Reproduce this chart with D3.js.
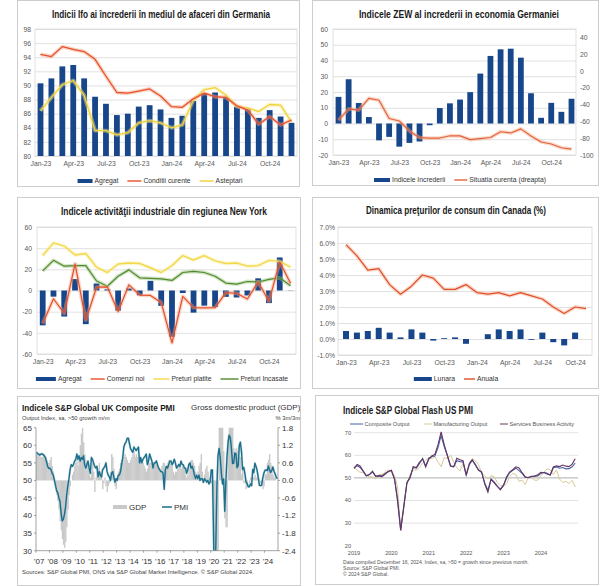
<!DOCTYPE html>
<html><head><meta charset="utf-8">
<script src="https://cdn.jsdelivr.net/npm/d3@7"></script>
<style>body{margin:0;background:#fff}svg{display:block}text{font-family:Arial,"Liberation Sans",sans-serif}</style>
</head><body><svg id="c" width="600" height="586"></svg>
<script>
// ---------- DATA ----------
const months = ["Jan-23","Feb-23","Mar-23","Apr-23","May-23","Jun-23","Jul-23","Aug-23","Sep-23","Oct-23","Nov-23","Dec-23",
                "Jan-24","Feb-24","Mar-24","Apr-24","May-24","Jun-24","Jul-24","Aug-24","Sep-24","Oct-24","Nov-24","Dec-24"];
const monthsCA = months.slice(0, 23);
const xTicks = ["Jan-23","Apr-23","Jul-23","Oct-23","Jan-24","Apr-24","Jul-24","Oct-24"];

const ifoAgregat   = [90.3,91.0,92.7,92.9,91.0,88.4,87.4,85.8,86.0,87.0,87.2,86.6,85.4,85.7,87.8,88.9,89.0,88.3,87.0,86.6,85.4,86.5,85.6,84.7];
const ifoConditii  = [94.4,94.1,95.5,95.1,94.8,93.7,91.3,89.0,88.9,89.2,89.5,88.5,87.0,86.9,88.1,88.9,88.4,88.3,87.1,86.5,84.5,85.6,84.4,85.1];
const ifoAsteptari = [86.4,88.3,90.1,90.7,88.6,83.6,83.6,83.0,83.3,84.7,85.0,84.7,84.0,84.4,87.9,89.4,89.7,88.6,87.0,86.8,86.3,87.3,87.2,84.8];
const ifoTicks = [80,82,84,86,88,90,92,94,96,98];

const zewIncredere = [16.9,28.1,13.0,4.1,-10.7,-8.5,-14.7,-12.3,-11.4,-1.1,9.8,12.8,15.2,19.9,31.7,42.9,47.1,47.5,41.8,19.2,3.6,13.1,7.4,15.7];
const zewSituatia  = [-58.6,-45.1,-46.5,-32.5,-34.8,-56.5,-59.5,-71.3,-79.4,-79.9,-79.8,-77.1,-77.3,-81.7,-80.5,-79.2,-72.3,-73.8,-68.9,-77.3,-84.5,-86.9,-91.4,-93.1];
const zewTicksL = [-20,-10,0,10,20,30,40,50,60];
const zewTicksR = [-100,-80,-60,-40,-20,0,20,40];

const nyAgregat  = [-32.9,-5.8,-24.6,10.8,-31.8,6.6,1.1,-19.0,1.9,-4.6,9.1,-14.5,-43.7,-2.4,-20.9,-14.3,-15.6,-6.0,-6.6,-4.7,11.5,-11.9,31.2,0.2];
const nyComenzi  = [-31.2,-7.8,-21.7,25.1,-28.0,3.1,3.5,-19.9,5.3,-4.3,-4.7,-11.3,-49.4,-5.6,-16.2,-16.5,-16.2,-2.0,-2.6,-8.0,8.0,-10.2,27.0,6.8];
const nyPlatite  = [33.0,45.0,42.0,33.5,35.0,22.0,17.0,25.0,26.0,25.5,21.5,17.0,23.5,33.0,28.8,33.0,28.0,25.5,26.0,23.0,23.5,28.5,27.5,22.0];
const nyIncasate = [18.5,28.5,23.0,23.5,23.5,9.0,4.0,13.5,19.5,12.0,11.5,11.0,9.5,17.0,18.0,17.0,13.5,7.0,6.0,8.5,8.0,10.5,12.0,4.5];
const nyTicks = [-60,-40,-20,0,20,40,60];

const caLunara = [0.5,0.4,0.5,0.7,0.4,0.1,0.6,0.4,-0.1,0.05,0.1,-0.3,0.0,0.3,0.6,0.5,0.6,-0.05,0.4,-0.2,-0.4,0.4,0.0];
const caAnuala = [5.9,5.2,4.3,4.4,3.4,2.8,3.3,4.0,3.8,3.1,3.1,3.4,2.9,2.8,2.9,2.7,2.9,2.7,2.5,2.0,1.6,2.0,1.9];
const caTicks = [-1,0,1,2,3,4,5,6,7];

const ukYears = ["'07","'08","'09","'10","'11","'12","'13","'14","'15","'16","'17","'18","'19","'20","'21","'22","'23","'24"];
const ukPMI = [
 58.0,57.6,57.5,57.2,57.5,57.6,57.3,57.0,56.5,55.3,53.9,53.4,
 53.5,53.0,52.0,51.5,50.0,48.5,47.0,46.5,45.0,44.0,40.5,38.5,
 39.0,40.5,42.5,46.0,48.5,50.5,53.0,54.5,54.0,54.5,55.5,56.0,
 57.5,56.0,57.0,55.5,56.5,56.0,57.0,54.5,53.5,54.5,55.5,53.5,
 52.0,56.5,56.0,55.0,54.0,53.5,54.0,51.0,52.5,51.5,51.0,53.0,
 53.5,54.0,55.0,52.5,51.5,51.0,50.0,52.0,52.5,51.0,49.5,50.5,
 50.0,51.5,51.5,52.5,54.5,56.5,59.5,60.5,61.0,62.0,62.0,60.5,
 59.0,58.5,58.0,59.5,59.0,58.5,59.0,59.5,55.0,56.5,55.0,56.0,
 56.5,57.0,57.5,54.5,55.5,57.5,56.5,55.5,53.5,55.0,55.0,55.5,
 54.5,53.5,53.0,52.5,52.5,52.0,47.5,53.0,54.0,53.5,54.5,55.5,
 55.5,54.5,55.0,56.0,55.0,53.5,54.0,54.5,54.0,55.5,54.5,54.5,
 53.5,53.5,52.0,53.0,54.5,55.0,53.5,54.0,53.0,51.5,50.5,51.5,
 50.5,51.5,50.0,50.5,50.5,49.5,50.5,50.0,49.5,50.0,49.0,49.5,
 53.0,53.0,36.0,13.8,30.0,47.7,57.0,59.1,56.5,52.1,49.0,50.4,
 41.2,49.6,56.4,60.7,62.9,62.2,59.2,54.8,54.9,57.8,57.6,53.6,
 54.2,59.9,60.9,58.2,53.1,53.7,52.1,49.6,49.1,48.2,48.2,49.0,
 48.5,53.1,52.2,54.9,54.0,52.8,50.8,48.6,48.5,48.7,50.7,52.1,
 52.9,53.0,52.8,54.1,53.0,52.3,52.8,53.8,52.6,51.8,50.9,50.5];
const ukGDP = [
 0.9,0.9,0.9,0.9,0.8,0.8,0.9,0.9,0.8,0.7,0.6,0.6,
 0.7,0.8,0.5,0.3,0.1,-0.2,-0.5,-0.7,-1.0,-1.4,-1.7,-2.0,
 -2.2,-2.3,-2.1,-1.6,-1.0,-0.5,-0.2,0.0,0.2,0.3,0.5,0.6,
 0.7,0.5,0.7,1.2,1.6,1.9,1.3,0.9,0.7,0.6,0.4,0.2,
 0.1,0.3,0.6,0.3,-0.4,0.1,0.3,0.4,0.6,0.3,0.2,-0.3,
 -0.1,0.1,-0.2,-0.4,-0.2,-0.1,0.3,0.9,0.8,0.4,-0.2,-0.3,
 0.1,0.3,0.4,0.6,0.7,0.6,0.8,0.9,0.8,0.7,0.6,0.6,
 0.7,0.8,0.9,1.0,0.8,0.9,0.8,0.7,0.6,0.7,0.7,0.6,
 0.5,0.4,0.3,0.4,0.6,0.6,0.6,0.5,0.4,0.5,0.6,0.7,
 0.5,0.4,0.4,0.4,0.5,0.6,0.6,0.5,0.5,0.6,0.7,0.7,
 0.7,0.5,0.3,0.2,0.3,0.3,0.4,0.5,0.5,0.4,0.5,0.5,
 0.4,0.2,0.1,0.2,0.4,0.6,0.7,0.7,0.6,0.5,0.3,0.2,
 0.3,0.5,0.6,0.9,0.3,-0.1,0.2,0.4,0.5,0.3,0.1,0.0,
 -0.1,-0.1,-2.1,-10.4,-19.1,-20.4,-7.6,8.2,15.5,10.5,4.1,1.0,
 -1.3,-1.6,-1.6,1.5,4.8,4.8,3.6,2.9,1.1,0.9,1.1,1.0,
 1.1,0.8,0.8,0.2,0.4,-0.1,0.0,-0.3,-0.2,0.0,-0.1,0.1,
 0.1,0.1,0.1,0.2,0.1,0.1,0.1,0.0,-0.1,-0.2,-0.3,-0.2,
 0.2,0.2,0.6,0.7,0.9,0.6,0.5,0.2,0.1,0.1];
const ukTicksL = [30,35,40,45,50,55,60,65];
const ukTicksR = [-2.4,-1.8,-1.2,-0.6,0.0,0.6,1.2,1.8];

const usYears = ["2019","2020","2021","2022","2023","2024"];
const usComposite = [
 54.4,55.5,54.6,53.0,50.9,51.5,52.6,50.7,51.0,50.9,52.0,52.7,
 53.3,49.6,40.9,27.0,37.0,47.9,50.3,54.6,54.3,56.3,58.6,55.3,
 58.7,59.5,59.7,63.5,68.7,63.7,59.9,55.4,55.0,57.6,57.2,57.0,
 51.1,55.9,57.7,56.0,53.6,52.3,47.7,44.6,49.5,48.2,46.4,45.0,
 46.8,50.1,52.3,53.4,54.3,53.2,52.0,50.2,50.2,50.7,50.7,50.9,
 52.0,52.5,52.1,51.3,54.5,54.8,54.3,54.6,54.0,54.1,54.9,56.6];
const usManufacturing = [
 54.5,53.5,52.5,52.5,51.0,50.5,50.5,49.5,51.5,51.5,52.5,53.5,
 53.0,51.0,46.0,27.5,36.0,47.5,51.5,53.5,53.5,54.5,56.5,58.0,
 59.0,58.5,59.5,57.0,55.0,59.0,58.5,60.0,57.0,54.5,53.0,56.5,
 52.0,56.0,58.5,57.5,56.0,52.0,51.0,49.5,51.0,50.5,48.0,46.5,
 46.5,47.5,50.5,52.0,51.5,48.5,49.0,47.0,50.5,50.0,49.0,49.0,
 51.0,52.5,54.0,53.5,51.5,53.5,49.5,48.0,48.5,47.5,49.0,46.0];
const usServices = [
 54.2,56.0,55.3,53.0,50.9,51.5,53.0,50.7,50.9,50.6,51.6,52.8,
 53.4,49.4,39.8,26.7,37.5,47.9,50.0,55.0,54.6,56.9,58.4,54.8,
 58.3,59.8,60.4,64.7,70.4,64.6,59.9,55.1,54.9,58.7,58.0,57.6,
 51.2,56.5,58.0,55.6,53.4,52.7,47.3,43.7,49.3,47.8,46.2,44.7,
 46.8,50.6,52.6,53.6,54.9,54.4,52.3,50.5,50.1,50.6,50.8,51.4,
 52.5,52.3,51.7,51.3,54.8,55.3,55.0,55.7,55.2,55.0,56.1,58.5];
const usTicks = [20,30,40,50,60,70];

// ---------- DRAWING ----------
const svg = d3.select("#c");
const AX = "#595959", GRID = "#d9d9d9", BLUE = "#17468a";
const FS = 6.8;

function panel(x, y, w, h) {
  svg.append("rect").attr("x", x + 0.5).attr("y", y + 0.5).attr("width", w).attr("height", h)
    .attr("fill", "#fff").attr("stroke", "#cdcdcd");
}
function title(txt, x, y, len, fs, anchor, fit) {
  const t = svg.append("text").attr("x", x).attr("y", y).attr("text-anchor", anchor || "middle")
    .attr("font-family", "'Liberation Sans Narrow','DejaVu Sans Condensed',sans-serif")
    .attr("font-weight", "bold").attr("font-size", fs)
    .attr("fill", "#1a1a1a").text(txt);
  if (fit) {
    const nat = t.node().getComputedTextLength();
    t.attr("font-size", (fs * len / nat).toFixed(2));
  } else {
    t.attr("textLength", len).attr("lengthAdjust", "spacingAndGlyphs");
  }
}
function leftAxis(y, x0, x1, ticks, fmt, pad) {
  const g = svg.append("g").attr("transform", `translate(${x0},0)`)
    .call(d3.axisLeft(y).tickValues(ticks).tickSize(-(x1 - x0)).tickPadding(pad).tickFormat(fmt));
  g.select(".domain").remove();
  g.selectAll("line").attr("stroke", GRID).attr("stroke-width", 0.8);
  g.selectAll("text").attr("fill", AX).attr("font-size", FS).attr("font-family", "Arial,'Liberation Sans',sans-serif");
  return g;
}
function bottomAxis(x, yPos, ticks) {
  const g = svg.append("g").attr("transform", `translate(0,${yPos})`)
    .call(d3.axisBottom(x).tickValues(ticks).tickSize(0).tickPadding(5));
  g.select(".domain").remove();
  g.selectAll("text").attr("fill", AX).attr("font-size", FS).attr("font-family", "Arial,'Liberation Sans',sans-serif");
}
function frame(x0, x1, y0, y1) {
  svg.append("rect").attr("x", x0).attr("y", y0).attr("width", x1 - x0).attr("height", y1 - y0)
    .attr("fill", "none").attr("stroke", GRID).attr("stroke-width", 0.8);
}
function bars(x, y, cats, vals, base, w, color) {
  svg.append("g").selectAll("rect").data(vals).join("rect")
    .attr("x", (d, i) => x(cats[i]) - w / 2)
    .attr("y", d => Math.min(y(d), y(base)))
    .attr("width", w)
    .attr("height", d => Math.abs(y(d) - y(base)))
    .attr("fill", color);
}
function series(x, y, cats, vals, color, width, halo) {
  const line = d3.line().x((d, i) => x(cats[i])).y(d => y(d));
  if (halo) svg.append("path").attr("d", line(vals)).attr("fill", "none").attr("stroke", halo)
    .attr("stroke-width", width + 2.6).attr("stroke-opacity", 0.45).attr("stroke-linejoin", "round");
  svg.append("path").attr("d", line(vals)).attr("fill", "none").attr("stroke", color)
    .attr("stroke-width", width).attr("stroke-linejoin", "round");
}
function legend(items, cx, cy, fs, color) {
  const g = svg.append("g");
  let x = 0;
  items.forEach((it, k) => {
    if (it.type === "bar") g.append("rect").attr("x", x).attr("y", cy - 2).attr("width", it.w).attr("height", 4).attr("fill", it.color);
    else g.append("line").attr("x1", x).attr("x2", x + it.w).attr("y1", cy).attr("y2", cy)
      .attr("stroke", it.color).attr("stroke-width", it.sw || 1.4);
    x += it.w + 2;
    const t = g.append("text").attr("x", x).attr("y", cy).attr("dy", "0.35em").attr("font-size", fs)
      .attr("fill", color).text(it.label);
    x += t.node().getComputedTextLength() + (k < items.length - 1 ? 9 : 0);
  });
  g.attr("transform", `translate(${cx - x / 2},0)`);
}
const numFmt = d => String(d);

// ===== Panel 1: Ifo =====
panel(17, 0, 282, 186);
title("Indicii Ifo ai încrederii în mediul de afaceri din Germania", 161, 18, 218, 10);
{
  const x = d3.scalePoint().domain(months).range([40.5, 291.5]);
  const y = d3.scaleLinear().domain([80, 98]).range([156, 29]);
  leftAxis(y, 35, 297, ifoTicks, numFmt, 4);
  frame(35, 297, 29, 156);
  bars(x, y, months, ifoAgregat, 80, 5.8, BLUE);
  series(x, y, months, ifoAsteptari, "#f0d23c", 1.3, "#f8e88a");
  series(x, y, months, ifoConditii, "#e8502a", 1.3, "#f4a080");
  bottomAxis(x, 156, xTicks);
  legend([{type:"bar", w:15, color:BLUE, label:"Agregat"},
          {type:"line", w:14, color:"#e8502a", label:"Conditii curente"},
          {type:"line", w:14, color:"#f0d23c", label:"Asteptari"}], 160, 181, FS, "#333");
}

// ===== Panel 2: ZEW =====
panel(312, 0, 286, 185);
title("Indicele ZEW al increderii in economia Germaniei", 459, 18, 200, 10);
{
  const x = d3.scalePoint().domain(months).range([338.5, 571.5]);
  const yL = d3.scaleLinear().domain([-20, 60]).range([155, 29]);
  const yR = d3.scaleLinear().domain([-100, 50]).range([155, 29]);
  leftAxis(yL, 333, 576, zewTicksL, numFmt, 5);
  frame(333, 576, 29, 155);
  const gr = svg.append("g").attr("transform", "translate(576,0)")
    .call(d3.axisRight(yR).tickValues(zewTicksR).tickSize(0).tickPadding(4).tickFormat(numFmt));
  gr.select(".domain").remove();
  gr.selectAll("text").attr("fill", AX).attr("font-size", FS);
  bars(x, yL, months, zewIncredere, 0, 5.8, BLUE);
  series(x, yR, months, zewSituatia, "#e3623a", 1.2, "#f3a98a");
  bottomAxis(x, 155, xTicks);
  legend([{type:"bar", w:16, color:BLUE, label:"Indicele Increderii"},
          {type:"line", w:13, color:"#e3623a", label:"Situatia curenta (dreapta)"}], 460, 180, FS, "#333");
}

// ===== Panel 3: New York =====
panel(17, 197, 283, 191);
title("Indicele activităţii industriale din regiunea New York", 164, 215, 206, 10);
{
  const x = d3.scalePoint().domain(months).range([42.7, 290.5]);
  const y = d3.scaleLinear().domain([-60, 60]).range([354, 227]);
  leftAxis(y, 37, 296, nyTicks, numFmt, 5);
  frame(37, 296, 227, 354);
  bars(x, y, months, nyAgregat, 0, 5.8, BLUE);
  series(x, y, months, nyPlatite, "#f3d84a", 1.4, "#f9eea0");
  series(x, y, months, nyIncasate, "#4f8a2b", 1.2, "#9cc47f");
  series(x, y, months, nyComenzi, "#e2502a", 1.2, "#f3a080");
  bottomAxis(x, 354, xTicks);
  legend([{type:"bar", w:20, color:BLUE, label:"Agregat"},
          {type:"line", w:14, color:"#e2502a", label:"Comenzi noi"},
          {type:"line", w:16, color:"#f3d84a", label:"Preturi platite"},
          {type:"line", w:18, color:"#4f8a2b", label:"Preturi Incasate"}], 162, 379, FS, "#333");
}

// ===== Panel 4: Canada CPI =====
panel(312, 197, 286, 191);
title("Dinamica preţurilor de consum din Canada (%)", 456, 214, 180, 10);
{
  const x = d3.scalePoint().domain(monthsCA).range([346, 586]);
  const y = d3.scaleLinear().domain([-1, 7]).range([355, 227]);
  leftAxis(y, 338, 592, caTicks, d => d.toFixed(1) + "%", 3);
  frame(338, 592, 227, 355);
  bars(x, y, monthsCA, caLunara, 0, 6, BLUE);
  series(x, y, monthsCA, caAnuala, "#e0502a", 1.2, "#f4a88a");
  bottomAxis(x, 355, xTicks);
  legend([{type:"bar", w:18, color:BLUE, label:"Lunara"},
          {type:"line", w:11, color:"#e0502a", label:"Anuala"}], 456, 379, FS, "#333");
}

// ===== Panel 5: UK Composite PMI =====
panel(17, 396, 283, 189);
{
  const clipP = svg.append("clipPath").attr("id", "p5clip");
  clipP.append("rect").attr("x", 17).attr("y", 396).attr("width", 283).attr("height", 190);
  const gP = svg.append("g").attr("clip-path", "url(#p5clip)");
  const X0 = 36, X1 = 278, Y0 = 427.7, Y1 = 550.7;
  const tx = d3.scaleTime().domain([new Date(2007, 0, 1), new Date(2025, 0, 1)]).range([X0, X1]);
  const yL = d3.scaleLinear().domain([30, 65]).range([Y1, Y0]);
  const yR = d3.scaleLinear().domain([-2.4, 1.8]).range([Y1, Y0]);
  const clip = svg.append("clipPath").attr("id", "ukclip");
  clip.append("rect").attr("x", X0).attr("y", Y0).attr("width", X1 - X0).attr("height", Y1 - Y0);
  const g = svg.append("g").attr("clip-path", "url(#ukclip)");
  g.selectAll("rect").data(ukGDP).join("rect")
    .attr("x", (d, i) => tx(new Date(2007, i, 1)))
    .attr("width", (d, i) => tx(new Date(2007, i + 1, 1)) - tx(new Date(2007, i, 1)) + 0.25)
    .attr("y", d => Math.min(yR(d), yR(0)))
    .attr("height", d => Math.abs(yR(d) - yR(0)))
    .attr("fill", "#c9c9c9");
  const line = d3.line().x((d, i) => tx(new Date(2007, i, 15))).y(d => yL(d));
  g.append("path").attr("d", line(ukPMI)).attr("fill", "none").attr("stroke", "#9cc6d3").attr("stroke-width", 2.4).attr("stroke-opacity", 0.5).attr("stroke-linejoin", "round");
  g.append("path").attr("d", line(ukPMI)).attr("fill", "none").attr("stroke", "#1c6e8a").attr("stroke-width", 1.4).attr("stroke-linejoin", "round");
  const ac = "#8c8c8c";
  svg.append("line").attr("x1", X0).attr("x2", X0).attr("y1", Y0).attr("y2", Y1).attr("stroke", ac).attr("stroke-width", 0.8);
  svg.append("line").attr("x1", X1).attr("x2", X1).attr("y1", Y0).attr("y2", Y1).attr("stroke", ac).attr("stroke-width", 0.8);
  svg.append("line").attr("x1", X0).attr("x2", X1).attr("y1", Y1).attr("y2", Y1).attr("stroke", ac).attr("stroke-width", 0.8);
  ukTicksL.forEach(t => {
    svg.append("line").attr("x1", X0 - 2).attr("x2", X0).attr("y1", yL(t)).attr("y2", yL(t)).attr("stroke", ac).attr("stroke-width", 0.8);
    svg.append("text").attr("x", 32).attr("y", yL(t)).attr("dy", "0.35em").attr("text-anchor", "end")
      .attr("font-size", 8).attr("fill", "#333").text(t);
  });
  ukTicksR.forEach(t => {
    svg.append("line").attr("x1", X1).attr("x2", X1 + 2).attr("y1", yR(t)).attr("y2", yR(t)).attr("stroke", ac).attr("stroke-width", 0.8);
    gP.append("text").attr("x", 282).attr("y", yR(t)).attr("dy", "0.35em")
      .attr("font-size", 8).attr("fill", "#333").text(t.toFixed(1));
  });
  ukYears.forEach((lab, k) => {
    svg.append("line").attr("x1", tx(new Date(2007 + k, 0, 1))).attr("x2", tx(new Date(2007 + k, 0, 1)))
      .attr("y1", Y1).attr("y2", Y1 + 2).attr("stroke", ac).attr("stroke-width", 0.8);
    svg.append("text").attr("x", tx(new Date(2007 + k, 3, 1))).attr("y", 564).attr("text-anchor", "middle")
      .attr("font-size", 8).attr("fill", "#333").text(lab);
  });
  title("Indicele S&P Global UK Composite PMI", 22, 410.5, 153, 10, "start", true);
  svg.append("text").attr("x", 22).attr("y", 420).attr("font-size", 5.8).attr("fill", "#444").text("Output Index, sa, >50 growth m/m");
  gP.append("text").attr("x", 191).attr("y", 410).attr("font-size", 8).attr("fill", "#333").text("Gross domestic product (GDP)");
  gP.append("text").attr("x", 300).attr("y", 420).attr("text-anchor", "end").attr("font-size", 5.8).attr("fill", "#444").text("% 3m/3m");
  svg.append("text").attr("x", 22).attr("y", 574).attr("font-size", 5.9).attr("fill", "#444")
    .text("Sources: S&P Global PMI, ONS via S&P Global Market Intelligence. © S&P Global 2024.");
  svg.append("line").attr("x1", 113).attr("x2", 127).attr("y1", 507).attr("y2", 507).attr("stroke", "#c9c9c9").attr("stroke-width", 4);
  svg.append("text").attr("x", 129).attr("y", 507).attr("dy", "0.35em").attr("font-size", 8).attr("fill", "#333").text("GDP");
  svg.append("line").attr("x1", 162).attr("x2", 172).attr("y1", 507).attr("y2", 507).attr("stroke", "#1c6e8a").attr("stroke-width", 1.5);
  svg.append("text").attr("x", 174).attr("y", 507).attr("dy", "0.35em").attr("font-size", 8).attr("fill", "#333").text("PMI");
}

// ===== Panel 6: US Flash PMI =====
panel(315, 395, 283, 189);
{
  const X0 = 354, X1 = 578;
  const tx = d3.scaleTime().domain([new Date(2019, 0, 1), new Date(2025, 0, 1)]).range([354, 578.4]);
  const y = d3.scaleLinear().domain([20, 70]).range([545.7, 432.7]);
  usTicks.forEach(t => {
    if (t !== 20) svg.append("line").attr("x1", X0).attr("x2", X1).attr("y1", y(t)).attr("y2", y(t))
      .attr("stroke", t === 50 ? "#9a9a9a" : "#dcdcdc").attr("stroke-width", 0.8);
    svg.append("text").attr("x", 351).attr("y", y(t)).attr("dy", "0.35em").attr("text-anchor", "end")
      .attr("font-size", 5.6).attr("fill", "#555").text(t);
  });
  usYears.forEach((lab, k) => {
    svg.append("text").attr("x", tx(new Date(2019 + k, 0, 1))).attr("y", 555).attr("text-anchor", "middle")
      .attr("font-size", 5.6).attr("fill", "#555").text(lab);
  });
  const line = d3.line().x((d, i) => tx(new Date(2019, i, 1))).y(d => y(d));
  svg.append("path").attr("d", line(usManufacturing)).attr("fill", "none").attr("stroke", "#d9c99a").attr("stroke-width", 1);
  svg.append("path").attr("d", line(usComposite)).attr("fill", "none").attr("stroke", "#4660a8").attr("stroke-width", 1.1);
  svg.append("path").attr("d", line(usServices)).attr("fill", "none").attr("stroke", "#66355f").attr("stroke-width", 1.1);
  title("Indicele S&P Global Flash US PMI", 343, 414, 130, 10.5, "start");
  const lg = [[350, 363, "#4660a8", "Composite Output"], [424, 432, "#d9c99a", "Manufacturing Output"], [500, 508, "#66355f", "Services Business Activity"]];
  lg.forEach(([a, b, c, t]) => {
    svg.append("line").attr("x1", a).attr("x2", b).attr("y1", 424).attr("y2", 424).attr("stroke", c).attr("stroke-width", 1);
    svg.append("text").attr("x", b + 1.5).attr("y", 424).attr("dy", "0.35em").attr("font-size", 5.6).attr("fill", "#555").text(t);
  });
  const notes = ["Data compiled December 16, 2024. Index, sa, >50 = growth since previous month.", "Source: S&P Global PMI.", "© 2024 S&P Global."];
  notes.forEach((t, k) => svg.append("text").attr("x", 343).attr("y", 563.5 + k * 6.2).attr("font-size", 5.1).attr("fill", "#555").text(t));
}
</script></body></html>
